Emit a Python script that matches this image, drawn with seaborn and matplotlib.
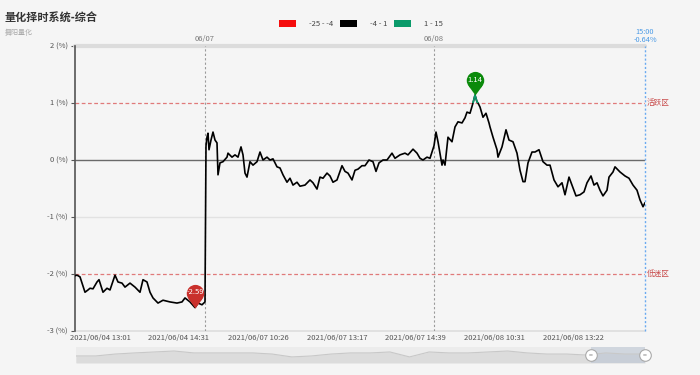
import matplotlib
matplotlib.use("Agg")
import matplotlib.pyplot as plt
from matplotlib.patches import Patch, Rectangle
from matplotlib.path import Path
import seaborn as sns
import pandas as pd

sns.set_theme(style="white")
plt.rcParams['font.family'] = ['Noto Sans CJK SC', 'DejaVu Sans']

title = "量化择时系统-综合"
subtitle = "舞阳量化"

# minute index inside the visible window and the return in %
minute_idx = [0, 2, 5, 10, 13, 15, 18, 22, 24, 28, 32, 35, 40, 43, 47, 50, 55, 60, 65, 68,
              72, 75, 78, 83, 88, 95, 102, 107, 110, 115, 120, 123, 127, 130,
              131, 132, 133, 134, 136, 138, 140, 142, 143, 145, 148, 152, 153, 157, 160, 163,
              166, 168, 170, 172, 175, 178, 182, 185, 188, 192, 195, 198, 202, 205, 208, 212,
              215, 218, 222, 225, 230, 235, 238, 242, 245, 248, 252, 255, 258, 262, 267, 270,
              273, 277, 280, 283, 287, 290, 294, 298, 301, 304, 308, 312, 317, 320, 325, 330,
              333, 338, 342, 345, 348, 352, 355, 359,
              361, 363, 367, 368, 370, 373, 377, 380, 383, 387, 390, 392, 395, 398, 400, 402,
              403, 405, 408, 411, 414, 415, 418, 422, 423, 427, 431, 434, 438, 442, 445, 448,
              450, 453, 457, 460, 464, 468, 472, 475, 479, 483, 487, 490, 494, 498, 501, 505,
              509, 512, 516, 519, 522, 525, 528, 532, 534, 538, 540, 545, 550, 554, 558, 562,
              565, 568, 570]
pct = [-2.03, -2.02, -2.05, -2.32, -2.28, -2.25, -2.26, -2.14, -2.10, -2.32, -2.25, -2.28,
       -2.02, -2.14, -2.16, -2.23, -2.16, -2.23, -2.32, -2.10, -2.14, -2.32, -2.42, -2.51,
       -2.46, -2.49, -2.51, -2.49, -2.42, -2.49, -2.59, -2.51, -2.54, -2.49,
       0.25, 0.40, 0.47, 0.18, 0.35, 0.49, 0.35, 0.30, -0.26, -0.05, -0.03, 0.05, 0.12, 0.05,
       0.09, 0.05, 0.23, 0.09, -0.23, -0.30, -0.03, -0.09, -0.03, 0.14, 0.00, 0.05, 0.00,
       0.02, -0.12, -0.14, -0.26, -0.39, -0.32, -0.44, -0.39, -0.46, -0.44, -0.35, -0.40,
       -0.51, -0.30, -0.32, -0.23, -0.28, -0.39, -0.35, -0.10, -0.20, -0.23, -0.35, -0.18,
       -0.16, -0.10, -0.10, 0.00, -0.03, -0.20, -0.05, 0.00, 0.00, 0.12, 0.03, 0.09, 0.12,
       0.09, 0.19, 0.12, 0.03, 0.00, 0.05, 0.03, 0.25,
       0.49, 0.32, -0.09, 0.00, -0.09, 0.40, 0.32, 0.58, 0.67, 0.65, 0.74, 0.84, 0.82, 1.00,
       1.14, 1.02, 1.00, 0.93, 0.75, 0.82, 0.65, 0.58, 0.40, 0.18, 0.05, 0.23, 0.53, 0.35,
       0.32, 0.12, -0.18, -0.38, -0.38, -0.05, 0.14, 0.14, 0.18, -0.03, -0.09, -0.09, -0.35,
       -0.47, -0.40, -0.61, -0.30, -0.49, -0.63, -0.61, -0.56, -0.40, -0.28, -0.44, -0.40,
       -0.53, -0.63, -0.53, -0.30, -0.21, -0.12, -0.21, -0.28, -0.32, -0.44, -0.53, -0.70,
       -0.82, -0.75]

tick_idx = [25, 104, 183, 262, 340, 419, 498]
tick_labels = ["2021/06/04 13:01", "2021/06/04 14:31", "2021/06/07 10:26",
               "2021/06/07 13:17", "2021/06/07 14:39", "2021/06/08 10:31",
               "2021/06/08 13:22"]
day_idx = [130, 359]
day_labels = ["06/07", "06/08"]
end_idx = 570
end_text = "15:00\n-0.64%"

upper_level, upper_name = 1, "活跃区"
lower_level, lower_name = -2, "低迷区"

piece_labels = ["-25 - -4", "-4 - 1", "1 - 15"]
piece_colors = ["#f50d0d", "#000000", "#0a9a6a"]

# overview trace for the zoom slider (relative height)
overview = [0.44, 0.44, 0.56, 0.63, 0.69, 0.75, 0.63, 0.63, 0.63, 0.63, 0.56, 0.38, 0.44,
            0.56, 0.63, 0.63, 0.69, 0.38, 0.69, 0.63, 0.63, 0.69, 0.75, 0.63, 0.56, 0.56,
            0.50, 0.63, 0.56, 0.56]

df = pd.DataFrame({"idx": minute_idx, "pct": pct})

bg = "#f5f5f5"
fig = plt.figure(figsize=(7, 3.75), dpi=100, facecolor=bg)
ax = fig.add_axes([75 / 700, 1 - 331 / 375, 570 / 700, 285 / 375])
ax.set_facecolor(bg)

# reference lines
ax.axhline(2, color="#dcdcdc", lw=3, clip_on=False, zorder=1)
ax.axhline(-3, color="#dedede", lw=1.2, clip_on=False, zorder=1)
ax.axhline(-1, color="#e2e2e2", lw=1, zorder=1)
ax.axhline(0, color="#6a6a6a", lw=1, zorder=2)
for lv, name in [(upper_level, upper_name), (lower_level, lower_name)]:
    ax.axhline(lv, color="#e07a7a", lw=0.9, dashes=(3, 2), zorder=2)
    ax.text(end_idx + 2, lv, name, color="#c84a4a", fontsize=5.5, va="center", ha="left")
for d, lab in zip(day_idx, day_labels):
    ax.axvline(d, color="#9a9a9a", lw=0.8, dashes=(2, 2), zorder=2)
    ax.text(d, 2.05, lab, color="#777777", fontsize=5.5, ha="center", va="bottom")
ax.axvline(end_idx, color="#6aaaf0", lw=1, dashes=(1.5, 1.5), zorder=2, clip_on=False)
ax.text(end_idx, 2.04, end_text, color="#4a9ae6", fontsize=5.3, ha="center", va="bottom",
        linespacing=0.95)

# main line, black, with the part above 1 coloured green
sns.lineplot(data=df, x="idx", y="pct", ax=ax, color=piece_colors[1], lw=1.2,
             sort=False, estimator=None, zorder=4)
sns.lineplot(data=df, x="idx", y="pct", ax=ax, color=piece_colors[2], lw=1.2,
             sort=False, estimator=None, zorder=5)
green = ax.lines[-1]
green.set_clip_path(Rectangle((0, upper_level), end_idx, 2, transform=ax.transData))

# pins at min / max
circ = Path.circle(center=(0, 1.7), radius=1.0)
tri = Path([(0, 0), (0.72, 1.0), (-0.72, 1.0), (0, 0)],
           [Path.MOVETO, Path.LINETO, Path.LINETO, Path.CLOSEPOLY])
pin = Path.make_compound_path(circ, tri)
i_min = pct.index(min(pct))
i_max = pct.index(max(pct))
for i, col in [(i_min, "#c9302c"), (i_max, "#0b8a0b")]:
    ax.plot(minute_idx[i], pct[i], marker=pin, markersize=34, color=col,
            markeredgewidth=0, linestyle="none", zorder=6, clip_on=False)
    ax.annotate(f"{pct[i]:.2f}", (minute_idx[i], pct[i]), xytext=(0, 11),
                textcoords="offset points", ha="center", va="center",
                color="white", fontsize=5.5, zorder=7)

ax.set_xlim(0, end_idx)
ax.set_ylim(-3, 2)
ax.set_xticks(tick_idx)
ax.set_xticklabels(tick_labels)
ax.set_yticks([-3, -2, -1, 0, 1, 2])
ax.set_yticklabels([f"{v} (%)" for v in [-3, -2, -1, 0, 1, 2]])
ax.tick_params(axis="x", length=0, pad=2, labelsize=5.5, labelcolor="#555555")
ax.tick_params(axis="y", length=3, width=0.8, color="#555555", pad=2,
               labelsize=5.5, labelcolor="#555555", left=True)
ax.set_xlabel("")
ax.set_ylabel("")
for s in ["top", "right", "bottom"]:
    ax.spines[s].set_visible(False)
ax.spines["left"].set_color("#555555")
ax.spines["left"].set_linewidth(1.2)

# titles and legend
fig.text(5 / 700, 1 - 18 / 375, title, fontsize=8, fontweight="bold", color="#333333",
         va="center", ha="left")
fig.text(5 / 700, 1 - 33 / 375, subtitle, fontsize=5, color="#aaaaaa", va="center", ha="left")
handles = [Patch(facecolor=c, edgecolor="none") for c in piece_colors]
fig.legend(handles, piece_labels, loc="center", bbox_to_anchor=(361 / 700, 1 - 24 / 375),
           ncol=3, frameon=False, fontsize=5.5, handlelength=2.2, handleheight=0.9,
           handletextpad=1.7, columnspacing=0.9, labelcolor="#444444")

# zoom slider
ax2 = fig.add_axes([76 / 700, 1 - 363 / 375, 569 / 700, 16 / 375])
ax2.set_facecolor("#ececec")
ox = list(range(len(overview)))
ax2.fill_between(ox, overview, 0, color="#dcdcdc", lw=0)
sns.lineplot(x=ox, y=overview, ax=ax2, color="#c8c8c8", lw=0.8)
ax2.add_patch(Rectangle((0.905, 0), 0.095, 1, transform=ax2.transAxes,
                        facecolor="#b9c4d3", alpha=0.55, lw=0))
ax2.set_xlim(0, len(overview) - 1)
ax2.set_ylim(0, 1)
ax2.set_xticks([])
ax2.set_yticks([])
for s in ax2.spines.values():
    s.set_visible(False)
for hx in [0.905, 1.0]:
    ax2.scatter([hx], [0.5], s=70, transform=ax2.transAxes, facecolor="white",
                edgecolor="#aaaaaa", lw=0.8, zorder=5, clip_on=False)
    ax2.text(hx, 0.5, "=", transform=ax2.transAxes, ha="center", va="center",
             fontsize=5, color="#888888", zorder=6)

fig.savefig("out.png", dpi=100, facecolor=bg)
